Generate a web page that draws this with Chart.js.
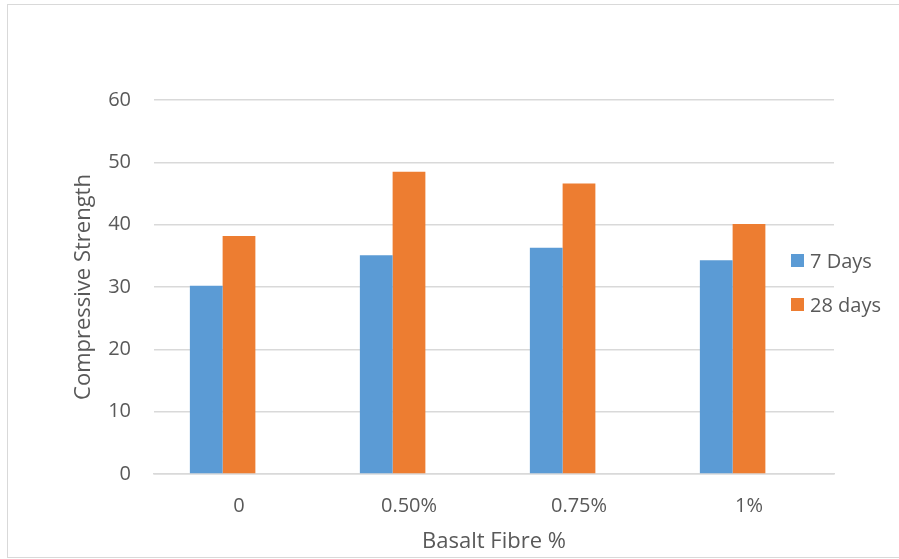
<!DOCTYPE html>
<html>
<head>
<meta charset="utf-8">
<script src="https://cdn.jsdelivr.net/npm/chart.js@4/dist/chart.umd.min.js"></script>
<style>
  html, body { margin: 0; padding: 0; background: #ffffff; overflow: hidden; }
  #wrap { position: relative; width: 899px; height: 559px; overflow: hidden; }
  #frame { position: absolute; left: 7px; top: 4px; width: 900px; height: 552px; border: 1.5px solid #d9d9d9; pointer-events: none; }
  canvas { position: absolute; left: 0; top: 0; }
  #legend { position: absolute; left: 791px; top: 247px; font-family: "Open Sans", sans-serif; font-size: 20px; color: #595959; }
  .item { display: flex; align-items: center; height: 26px; margin-bottom: 18px; white-space: nowrap; }
  .sw { width: 13px; height: 13px; margin-right: 6px; }
</style>
</head>
<body>
<div id="wrap">
  <canvas id="c" width="899" height="559"></canvas>
  <div id="frame"></div>
  <div id="legend"></div>
</div>
<script>
const categories = ["0", "0.50%", "0.75%", "1%"];
const days7 = [30.2, 35.1, 36.3, 34.3];
const days28 = [38.2, 48.5, 46.6, 40.1];
const emptySeries = [null, null, null, null];
const seriesLabels = ["7 Days", "28 days"];
const seriesColors = ["#5b9bd5", "#ed7d31"];
const yTicks = [0, 10, 20, 30, 40, 50, 60];

const textColor = "#595959";
const gridColor = "#d9d9d9";

const chart = new Chart(document.getElementById("c"), {
  type: "bar",
  data: {
    labels: categories,
    datasets: [
      { label: seriesLabels[0], data: days7, backgroundColor: seriesColors[0], borderWidth: 0 },
      { label: seriesLabels[1], data: days28, backgroundColor: seriesColors[1], borderWidth: 0 },
      { label: "", data: emptySeries, backgroundColor: "rgba(0,0,0,0)", borderWidth: 0 }
    ]
  },
  options: {
    responsive: false,
    animation: false,
    devicePixelRatio: 1,
    layout: { padding: { top: 100, right: 65, bottom: 0, left: 0 } },
    datasets: { bar: { categoryPercentage: 0.578, barPercentage: 1.0 } },
    plugins: { legend: { display: false }, tooltip: { enabled: false } },
    scales: {
      x: {
        grid: { display: false, drawTicks: false },
        border: { display: true, color: gridColor, width: 1.5 },
        ticks: { color: textColor, font: { family: "Open Sans", size: 20 }, padding: 20 },
        title: { display: true, text: "Basalt Fibre %", color: textColor, font: { family: "Open Sans", size: 22 }, padding: { top: 0, bottom: 4 } },
        afterFit: (s) => { s.height = 85; }
      },
      y: {
        min: 0, max: 60,
        afterBuildTicks: (s) => { s.ticks = yTicks.map(v => ({ value: v })); },
        grid: { color: gridColor, lineWidth: 1.5, drawTicks: false },
        border: { display: false },
        ticks: { color: textColor, font: { family: "Open Sans", size: 20 }, padding: 23 },
        title: { display: true, text: "Compressive Strength", color: textColor, font: { family: "Open Sans", size: 22 }, padding: { top: 71, bottom: 0 } },
        afterFit: (s) => { s.width = 154; }
      }
    }
  }
});

const legend = document.getElementById("legend");
seriesLabels.forEach((lab, i) => {
  const it = document.createElement("div");
  it.className = "item";
  const sw = document.createElement("div");
  sw.className = "sw";
  sw.style.background = seriesColors[i];
  const tx = document.createElement("span");
  tx.textContent = lab;
  it.appendChild(sw); it.appendChild(tx);
  legend.appendChild(it);
});
</script>
</body>
</html>
